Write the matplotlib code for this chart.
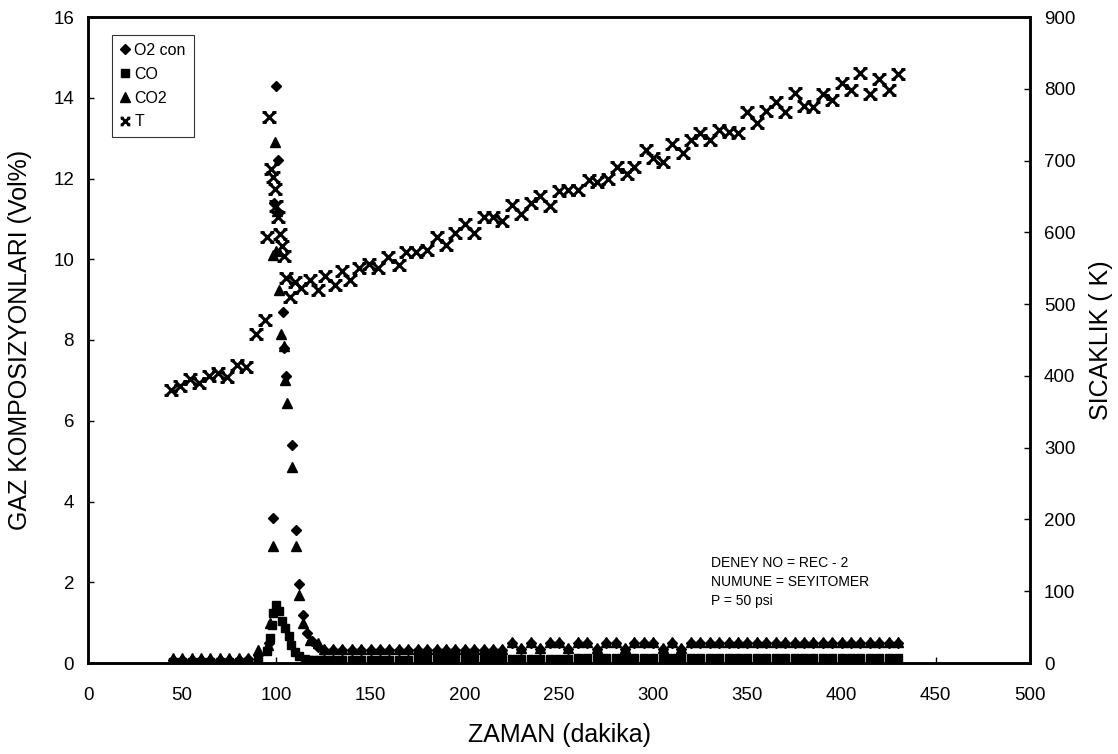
import matplotlib
matplotlib.use("Agg")
import matplotlib.pyplot as plt
from matplotlib.path import Path
from matplotlib.lines import Line2D

plt.rcParams['font.family'] = ['Liberation Sans', 'DejaVu Sans']

# ---------------- data ----------------
# Temperature (right axis, K)
t_T = [44, 49, 54, 59, 64, 69, 74, 79, 84, 89, 94, 95, 96, 97, 98, 99, 100, 101, 102, 103,
       104, 105, 107, 110, 113, 118, 122, 126, 131, 135, 139, 144, 149, 154, 159, 165, 169,
       174, 180, 185, 190, 195, 200, 205, 210, 215, 220, 225, 230, 235, 240, 245, 250, 255,
       260, 266, 270, 276, 281, 286, 290, 296, 300, 305, 310, 316, 320, 325, 330, 335, 340,
       345, 350, 355, 360, 365, 370, 375, 380, 385, 390, 395, 400, 405, 410, 415, 420, 425, 430]
T_vals = [381, 386, 396, 390, 400, 404, 399, 415, 412, 459, 478, 594, 760, 688, 677, 661, 637,
          621, 598, 581, 567, 537, 510, 531, 522, 533, 520, 539, 527, 546, 533, 550, 556, 550,
          565, 554, 572, 572, 576, 594, 582, 599, 612, 599, 622, 621, 616, 638, 626, 641, 651,
          637, 657, 659, 659, 673, 670, 675, 691, 681, 691, 715, 703, 698, 723, 711, 729, 739,
          729, 743, 740, 739, 767, 753, 769, 782, 768, 794, 776, 774, 793, 784, 808, 798, 822,
          793, 813, 798, 821]

# Gas composition (left axis, Vol%)
t_O2 = [45, 50, 55, 60, 65, 70, 75, 80, 85, 90, 96, 98, 98.8, 99.8, 101, 103.3, 104.2, 105.1,
        108.1, 110.2, 112, 114.3, 116.5, 119, 122,
        125, 130, 135, 140, 145, 150, 155, 160, 165, 170, 175, 180, 185, 190, 195, 200, 205,
        210, 215, 220, 225, 230, 235, 240, 245, 250, 255, 260, 265, 270, 275, 280, 285, 290,
        295, 300, 305, 310, 315, 320, 325, 330, 335, 340, 345, 350, 355, 360, 365, 370, 375,
        380, 385, 390, 395, 400, 405, 410, 415, 420, 425, 430]
O2_vals = [0.08, 0.08, 0.08, 0.08, 0.08, 0.08, 0.08, 0.08, 0.1, 0.2, 0.5, 3.6, 11.4, 14.3, 12.45,
           8.7, 7.8, 7.1, 5.4, 3.3, 1.95, 1.2, 0.75, 0.55, 0.4,
           0.32, 0.32, 0.32, 0.32, 0.32, 0.32, 0.32, 0.32, 0.32, 0.32, 0.32, 0.32, 0.32, 0.32,
           0.32, 0.32, 0.32, 0.32, 0.32, 0.32, 0.5, 0.34, 0.5, 0.34, 0.5, 0.5, 0.34, 0.5, 0.5,
           0.34, 0.5, 0.5, 0.34, 0.5, 0.5, 0.5, 0.34, 0.5, 0.34, 0.5, 0.5, 0.5, 0.5, 0.5, 0.5,
           0.5, 0.5, 0.5, 0.5, 0.5, 0.5, 0.5, 0.5, 0.5, 0.5, 0.5, 0.5, 0.5, 0.5, 0.5, 0.5, 0.5]

t_CO = [45, 50, 55, 60, 65, 70, 75, 80, 85, 90, 95, 96.5, 97.5, 98.3, 100, 101.5, 103, 104.8,
        106.5, 108, 110, 112, 115, 117.5, 120, 122.5,
        125, 130, 135, 140, 145, 150, 155, 160, 165, 170, 175, 180, 185, 190, 195, 200, 205,
        210, 215, 220, 225, 230, 235, 240, 245, 250, 255, 260, 265, 270, 275, 280, 285, 290,
        295, 300, 305, 310, 315, 320, 325, 330, 335, 340, 345, 350, 355, 360, 365, 370, 375,
        380, 385, 390, 395, 400, 405, 410, 415, 420, 425, 430]
CO_vals = [0.02, 0.02, 0.02, 0.02, 0.02, 0.02, 0.02, 0.02, 0.03, 0.05, 0.3, 0.62, 0.94, 1.23,
           1.44, 1.3, 1.05, 0.87, 0.67, 0.45, 0.27, 0.17, 0.1, 0.08, 0.08, 0.08,
           0.08, 0.08, 0.08, 0.08, 0.08, 0.08, 0.08, 0.08, 0.08, 0.08, 0.1, 0.1, 0.1, 0.1, 0.1,
           0.1, 0.1, 0.1, 0.1, 0.1, 0.1, 0.1, 0.1, 0.1, 0.1, 0.1, 0.1, 0.12, 0.12, 0.12, 0.12,
           0.12, 0.12, 0.12, 0.12, 0.12, 0.12, 0.12, 0.12, 0.12, 0.12, 0.12, 0.12, 0.12, 0.12,
           0.12, 0.12, 0.12, 0.12, 0.12, 0.12, 0.12, 0.12, 0.12, 0.12, 0.12, 0.12, 0.12, 0.12,
           0.12, 0.12, 0.12]

t_CO2 = [45, 50, 55, 60, 65, 70, 75, 80, 85, 90.4, 95.7, 96.6, 98, 98.4, 99.3, 100, 100.5,
         101.5, 102.3, 104, 104.8, 105.5, 108.1, 110.2, 112, 114.3, 117.8, 122,
         125, 130, 135, 140, 145, 150, 155, 160, 165, 170, 175, 180, 185, 190, 195, 200, 205,
         210, 215, 220, 225, 230, 235, 240, 245, 250, 255, 260, 265, 270, 275, 280, 285, 290,
         295, 300, 305, 310, 315, 320, 325, 330, 335, 340, 345, 350, 355, 360, 365, 370, 375,
         380, 385, 390, 395, 400, 405, 410, 415, 420, 425, 430]
CO2_vals = [0.12, 0.12, 0.12, 0.12, 0.12, 0.12, 0.12, 0.12, 0.12, 0.32, 0.45, 1.0, 2.9, 10.1,
            12.9, 10.2, 11.2, 9.25, 8.16, 7.85, 7.0, 6.45, 4.85, 2.9, 1.68, 1.0, 0.57, 0.49,
            0.35, 0.35, 0.35, 0.35, 0.35, 0.35, 0.35, 0.35, 0.35, 0.35, 0.35, 0.35, 0.35, 0.35,
            0.35, 0.35, 0.35, 0.35, 0.35, 0.35, 0.52, 0.36, 0.52, 0.36, 0.52, 0.52, 0.36, 0.52,
            0.52, 0.36, 0.52, 0.52, 0.36, 0.52, 0.52, 0.52, 0.36, 0.52, 0.36, 0.52, 0.52, 0.52,
            0.52, 0.52, 0.52, 0.52, 0.52, 0.52, 0.52, 0.52, 0.52, 0.52, 0.52, 0.52, 0.52, 0.52,
            0.52, 0.52, 0.52, 0.52, 0.52, 0.52]

x_ticks = [0, 50, 100, 150, 200, 250, 300, 350, 400, 450, 500]
left_ticks = [0, 2, 4, 6, 8, 10, 12, 14, 16]
right_ticks = [0, 100, 200, 300, 400, 500, 600, 700, 800, 900]

# ---------------- figure ----------------
fig = plt.figure(figsize=(11.18, 7.54), dpi=100)
ax = fig.add_axes([88 / 1118, 91 / 754, (1030 - 88) / 1118, (663 - 17) / 754])
ax2 = ax.twinx()

# Excel-like "x" marker with small horizontal feet at the tips
f = 0.4
star = Path([(-1, -1), (1, 1), (-1, 1), (1, -1),
             (-1 - f, 1), (-1 + f, 1), (1 - f, 1), (1 + f, 1),
             (-1 - f, -1), (-1 + f, -1), (1 - f, -1), (1 + f, -1)],
            [Path.MOVETO, Path.LINETO, Path.MOVETO, Path.LINETO,
             Path.MOVETO, Path.LINETO, Path.MOVETO, Path.LINETO,
             Path.MOVETO, Path.LINETO, Path.MOVETO, Path.LINETO])

ax.plot(t_CO, CO_vals, ls='none', marker='s', ms=6, color='black', zorder=3)
ax.plot(t_CO2, CO2_vals, ls='none', marker='^', ms=7, color='black', zorder=4)
ax.plot(t_O2, O2_vals, ls='none', marker='D', ms=5.5, color='black', zorder=5)
ax2.plot(t_T, T_vals, ls='none', marker=star, ms=10, mew=2.2, color='black', zorder=5)

ax.set_xlim(0, 500)
ax.set_ylim(0, 16)
ax2.set_ylim(0, 900)
ax.set_xticks(x_ticks)
ax.set_yticks(left_ticks)
ax2.set_yticks(right_ticks)

for a in (ax, ax2):
    for s in a.spines.values():
        s.set_linewidth(1.8)
ax.tick_params(axis='both', direction='in', length=4, width=1, labelsize=13.5)
ax.tick_params(axis='x', pad=17)
ax.tick_params(axis='y', pad=10)
ax2.tick_params(axis='y', direction='in', length=4, width=1, labelsize=13.5, pad=10)

ax.set_xlabel('ZAMAN (dakika)', fontsize=18, labelpad=14)
ax.set_ylabel('GAZ KOMPOSIZYONLARI (Vol%)', fontsize=18, labelpad=15)
ax2.set_ylabel('SICAKLIK ( K)', fontsize=18, labelpad=10)

handles = [
    Line2D([], [], ls='none', marker='D', ms=5, color='black'),
    Line2D([], [], ls='none', marker='s', ms=6, color='black'),
    Line2D([], [], ls='none', marker='^', ms=7, color='black'),
    Line2D([], [], ls='none', marker=star, ms=7, mew=2.0, color='black'),
]
leg = ax2.legend(handles, ['O2 con', 'CO', 'CO2', 'T'], loc='upper left',
                 bbox_to_anchor=((112 - 88) / 942, (663 - 35) / 646), borderaxespad=0,
                 fontsize=11.5, frameon=True, fancybox=False, edgecolor='black',
                 handlelength=0.6, handletextpad=0.3, borderpad=0.5, labelspacing=0.55)
leg.get_frame().set_linewidth(0.8)

ax.text(0.661, 0.085, 'DENEY NO = REC - 2\nNUMUNE = SEYITOMER\nP = 50 psi',
        transform=ax.transAxes, fontsize=10, va='bottom', ha='left', linespacing=1.45)

fig.savefig('out.png', dpi=100, facecolor='white')
